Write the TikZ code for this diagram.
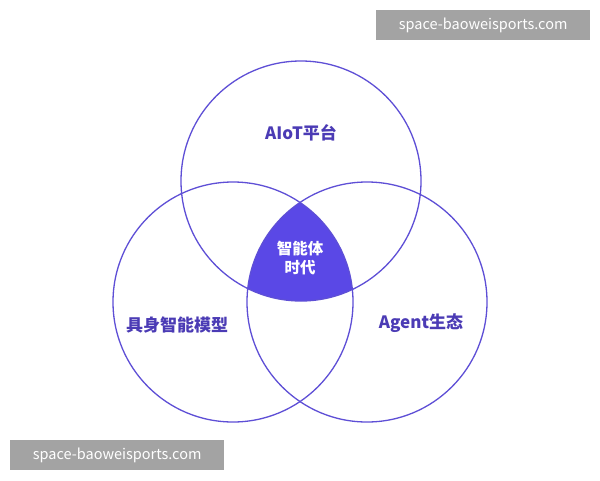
\documentclass[tikz,border=0pt]{standalone}
\usepackage{fontspec}
\setmainfont{Noto Sans CJK SC}
\definecolor{ring}{HTML}{5E4FD6}
\definecolor{core}{HTML}{5A48E6}
\definecolor{labeltxt}{HTML}{4B3BB5}
\definecolor{markbg}{HTML}{A3A3A3}
\begin{document}
\begin{tikzpicture}[x=1pt,y=-1pt,
  ring/.style={draw=ring, line width=1.3pt},
  setlabel/.style={text=labeltxt, font=\bfseries\fontsize{17}{20}\selectfont},
  watermark/.style={fill=markbg, text=white, font=\fontsize{14.5}{17}\selectfont, minimum width=214pt, minimum height=30pt, inner sep=0pt}]
\useasboundingbox (0,0) rectangle (600,480);
\fill[white] (0,0) rectangle (600,480);

% core region shared by all three sets
\begin{scope}
  \clip (301,181) circle (120);
  \clip (233,302) circle (120);
  \fill[core] (367,302) circle (120);
\end{scope}

% the three sets
\draw[ring] (301,181) circle (120);
\draw[ring] (233,302) circle (120);
\draw[ring] (367,302) circle (120);

% Text Node
\node[setlabel] (aiot) at (301,133) {AIoT平台};
\node[setlabel] (body) at (177,325) {具身智能模型};
\node[setlabel] (agent) at (421,323) {Agent生态};
\node[text=white, font=\bfseries\fontsize{15.5}{19}\selectfont, align=center] (era) at (300,258) {智能体\\时代};

% watermarks
\node[watermark, anchor=north west] (markA) at (376,10) {space-baoweisports.com};
\node[watermark, anchor=north west] (markB) at (10,440) {space-baoweisports.com};
\end{tikzpicture}
\end{document}
